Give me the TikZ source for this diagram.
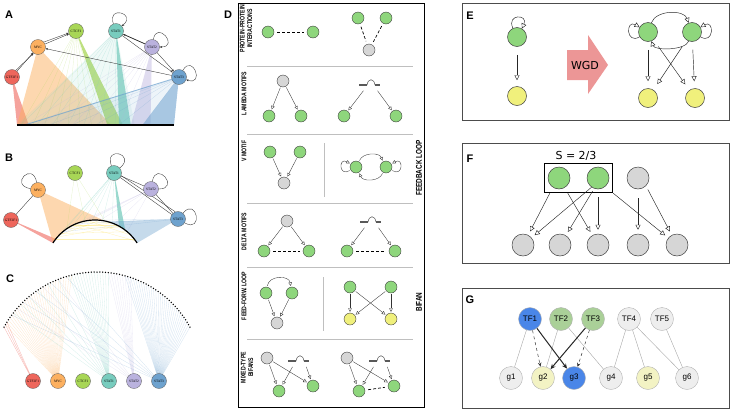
\documentclass[tikz,border=0pt]{standalone}
\usepackage{fontspec}
\setmainfont{Liberation Sans}
\newfontfamily\dejavu{DejaVu Sans}
\newfontfamily\tfserif{Liberation Serif}
\newfontfamily\narrowsans[FakeStretch=0.76]{Liberation Sans}
\usetikzlibrary{arrows.meta,backgrounds,fit}

\definecolor{tfred}{RGB}{238,102,92}
\definecolor{tforange}{RGB}{252,176,96}
\definecolor{tflime}{RGB}{168,214,86}
\definecolor{tfteal}{RGB}{120,204,190}
\definecolor{tfpurple}{RGB}{186,178,222}
\definecolor{tfblue}{RGB}{110,162,206}
\definecolor{motifgreen}{RGB}{142,214,124}
\definecolor{motifyellow}{RGB}{240,240,124}
\definecolor{motifgray}{RGB}{214,214,214}
\definecolor{wgdpink}{RGB}{236,150,150}
\definecolor{gblue}{RGB}{74,134,232}
\definecolor{ggreen}{RGB}{170,208,152}
\definecolor{ggray}{RGB}{238,238,238}
\definecolor{gyellow}{RGB}{243,243,196}
\newcommand{\edgecolor}{gray!40!black}

\tikzset{
  gene/.pic={
    \draw[genebar] (-12,0) -- (-4,0);
    \draw[gray!60!black, line width=.5pt] (-4,0) .. controls (-3,-7) and (3,-7) .. (4,0);
    \draw[genebar] (4,0) -- (9,0);
    \coordinate (-l) at (-7,5);
    \coordinate (-r) at (6,5);
  }
}

\begin{document}
\begin{tikzpicture}[x=1pt, y=-1pt,
    tf/.style={circle, draw=gray!70!black, line width=.3pt, minimum size=15pt, inner sep=0pt, font=\tfserif\fontsize{3.5}{4}\selectfont},
    fan/.style={line width=.3pt, opacity=.3},
    tfedge/.style={\edgecolor, line width=.35pt},
    tfarr/.style={tfedge, -{Stealth[length=2.5pt,width=2pt]}},
    letter/.style={font=\fontsize{11}{13}\selectfont\bfseries},
    motif/.style={circle, draw=gray!50!black, line width=.4pt, minimum size=12pt, inner sep=0pt},
    gn/.style={motif, fill=motifgreen},
    yn/.style={motif, fill=motifyellow},
    kn/.style={motif, fill=motifgray},
    reg/.style={-{Triangle[open,length=3.5pt,width=3.5pt]}, \edgecolor, line width=.35pt, shorten >=1pt, shorten <=1pt},
    ppi/.style={line width=.7pt, dash pattern=on 3pt off 2pt, shorten >=3pt, shorten <=3pt},
    rowlabel/.style={rotate=90, anchor=east, inner sep=.5pt, font=\narrowsans\bfseries\fontsize{6.8}{7.4}\selectfont, align=center},
    sidelabel/.style={rowlabel, anchor=center, font=\narrowsans\bfseries\fontsize{8.4}{9}\selectfont},
    rowsep/.style={gray!50, line width=.5pt},
    genebar/.style={gray!70!black, line width=1.5pt},
    panel/.style={draw=gray!60!black, line width=.8pt},
    big/.style={circle, draw=gray!50!black, line width=.5pt, minimum size=19pt, inner sep=0pt},
    fnode/.style={circle, draw=gray!50!black, line width=.5pt, minimum size=22pt, inner sep=0pt},
    wreg/.style={-{Triangle[open,length=5pt,width=5pt]}, gray!30!black, line width=.45pt},
    gnode/.style={circle, draw=gray!60, line width=.4pt, minimum size=23pt, inner sep=0pt, font=\fontsize{8}{9}\selectfont},
    gline/.style={gray!70, line width=.4pt},
    gdash/.style={gray!40!black, dashed, line width=.5pt, -{Stealth[length=4pt,width=3.5pt]}},
    gthick/.style={gray!30!black, line width=1pt, -{Stealth[length=5pt,width=4.5pt]}}]
  \useasboundingbox (0,0) rectangle (733,410);

  % ---- A ----
  \node[letter] (labA) at (9,15) {A};
  \node[tf, fill=tfred] (aGTF) at (12,77) {GTF2F1};
  \node[tf, fill=tforange] (aMYC) at (38,47) {MYC};
  \node[tf, fill=tflime] (aCTC) at (76,31) {CTCF1};
  \node[tf, fill=tfteal] (aST1) at (116,31) {STAT1};
  \node[tf, fill=tfpurple] (aST2) at (152,47) {STAT2};
  \node[tf, fill=tfblue] (aST3) at (179,77) {STAT3};
  \foreach \i in {0,...,40} \coordinate (ab\i) at ({17+3.925*\i},125);
  \begin{scope}[on background layer]
    % fans
    \fill[tfred, opacity=.6] (aGTF.center) -- (ab0) -- (ab3) -- cycle;
    \fill[tforange, opacity=.5] (aMYC.center) -- (ab0) -- (ab24) -- cycle;
    \foreach \i in {1,4,...,22} \draw[fan, tflime] (aCTC.center) -- (ab\i);
    \fill[tflime, opacity=.75] (aCTC.center) -- (ab23) -- (ab27) -- cycle;
    \fill[tfteal, opacity=.12] (aST1.center) -- (ab0) -- (ab30) -- cycle;
    \foreach \i in {1,5,...,25} \draw[fan, tfteal] (aST1.center) -- (ab\i);
    \fill[tfteal, opacity=.75] (aST1.center) -- (ab26) -- (ab29) -- cycle;
    \foreach \i in {2,6,...,26} \draw[fan, tfpurple] (aST2.center) -- (ab\i);
    \fill[tfpurple, opacity=.45] (aST2.center) -- (ab29) -- (ab34) -- cycle;
    \fill[tfblue, opacity=.12] (aST3.center) -- (ab1) -- (ab32) -- cycle;
    \draw[tfblue, opacity=.7, line width=.9pt] (aST3.center) -- (ab2);
    \foreach \i in {8,14,...,32} \draw[fan, tfblue] (aST3.center) -- (ab\i);
    \fill[tfblue, opacity=.6] (aST3.center) -- (ab32) -- (ab40) -- cycle;
    % tf edges
    \draw[tfarr] (aGTF) -- (aMYC);
    \draw[tfarr] (aGTF.60) -- (aMYC.235);
    \draw[tfarr] (aMYC) -- (aCTC);
    \draw[tfarr] (aMYC.40) -- (aCTC.195);
    \draw[tfarr] (aST3) -- (aMYC);
    \draw[tfarr, line width=.8pt, {Stealth[length=2.5pt,width=2pt]}-] (aST1) -- (aST2);
    \draw[tfarr] (aST2) -- (aST3);
    \draw[tfarr] (aST1) -- (aST3);
  \end{scope}
  \draw[line width=1.6pt] (ab0) -- (ab40);
  % self loops
  \draw[tfarr] (aST1.110) .. controls +(110:20pt) and +(40:20pt) .. (aST1.40);
  \draw[tfarr] (aST2.80) .. controls +(80:20pt) and +(0:20pt) .. (aST2.0);
  \draw[tfarr] (aST3.60) .. controls +(60:20pt) and +(-20:20pt) .. (aST3.-20);

  % ---- B ----
  \node[letter] (labB) at (9,158) {B};
  \node[tf, fill=tfred] (bGTF) at (11,220) {GTF2F1};
  \node[tf, fill=tforange] (bMYC) at (38,190) {MYC};
  \node[tf, fill=tflime] (bCTC) at (75,173) {CTCF1};
  \node[tf, fill=tfteal] (bST1) at (114,173) {STAT1};
  \node[tf, fill=tfpurple] (bST2) at (151,189) {STAT2};
  \node[tf, fill=tfblue] (bST3) at (178,219) {STAT3};
  \foreach \i in {0,...,40} \coordinate (bd\i) at ({95+50*cos(212.7+2.865*\i)},{270+50*sin(212.7+2.865*\i)});
  \begin{scope}[on background layer]
    % fans
    \fill[tfred, opacity=.6] (bGTF.center) -- (bd0) -- (bd2) -- cycle;
    \fill[tforange, opacity=.5] (bMYC.center) \foreach \i in {0,...,24} {-- (bd\i)} -- cycle;
    \foreach \i in {3,7,...,27} \draw[fan, tfteal] (bST1.center) -- (bd\i);
    \fill[tfteal, opacity=.75] (bST1.center) -- (bd30) -- (bd31) -- (bd32) -- (bd33) -- cycle;
    \foreach \i in {4,10,...,34} \draw[fan, tfpurple] (bST2.center) -- (bd\i);
    \foreach \i in {8,16,24} \draw[fan, tflime] (bCTC.center) -- (bd\i);
    \fill[tfblue, opacity=.4] (bST3.center) \foreach \i in {25,...,40} {-- (bd\i)} -- cycle;
    \foreach \i in {6,12,18} \draw[fan, tfblue] (bST3.center) -- (bd\i);
    \foreach \i/\j in {2/38,5/34,8/31,11/29,14/26,4/22,9/27,17/36,3/30,12/39} \draw[fan, yellow!70!orange] (bd\i) -- (bd\j);
    % tf edges
    \draw[tfedge] (bMYC) -- (bGTF);
    \draw[tfedge] (bST1) -- (bST2);
    \draw[tfedge] (bST1) -- (bST3);
    \draw[tfedge] (bST1.-20) -- (bST3.110);
    \draw[tfedge] (bST2) -- (bST3);
  \end{scope}
  \draw[line width=1.2pt] (bd0) \foreach \i in {1,...,40} {-- (bd\i)};
  % self loops
  \draw[tfedge] (bMYC.100) .. controls +(100:22pt) and +(170:22pt) .. (bMYC.170);
  \draw[tfedge] (bST1.110) .. controls +(110:22pt) and +(40:22pt) .. (bST1.40);
  \draw[tfedge] (bST2.80) .. controls +(80:22pt) and +(0:22pt) .. (bST2.0);
  \draw[tfedge] (bST3.50) .. controls +(50:22pt) and +(-30:22pt) .. (bST3.-30);

  % ---- C ----
  \node[letter] (labC) at (10,279) {C};
  \node[tf, fill=tfred] (cGTF) at (33,381) {GTF2F1};
  \node[tf, fill=tforange] (cMYC) at (58,381) {MYC};
  \node[tf, fill=tflime] (cCTC) at (83,381) {CTCF1};
  \node[tf, fill=tfteal] (cST1) at (109,381) {STAT1};
  \node[tf, fill=tfpurple] (cST2) at (134,381) {STAT2};
  \node[tf, fill=tfblue] (cST3) at (159,381) {STAT3};
  \foreach \i in {0,...,80} \coordinate (cd\i) at ({97+106*cos(208.7+1.5325*\i)},{378+106*sin(208.7+1.5325*\i)});
  \begin{scope}[on background layer]
    \foreach \i in {0,1,2} \draw[fan, tfred, opacity=.5] (cGTF.center) -- (cd\i);
    \foreach \i in {1,...,31} \draw[fan, tforange] (cMYC.center) -- (cd\i);
    \foreach \i in {31,...,44} \draw[fan, tfteal] (cST1.center) -- (cd\i);
    \foreach \i in {6,10,...,30} \draw[fan, tfteal] (cST1.center) -- (cd\i);
    \foreach \i in {44,...,52} \draw[fan, tfpurple] (cST2.center) -- (cd\i);
    \foreach \i in {8,14,20,26} \draw[fan, tfpurple] (cST2.center) -- (cd\i);
    \foreach \i in {50,...,80} \draw[fan, tfblue] (cST3.center) -- (cd\i);
    \foreach \i in {5,11,17,23,29} \draw[fan, tfblue] (cST3.center) -- (cd\i);
  \end{scope}
  \foreach \i in {0,...,80} \fill (cd\i) circle (.75pt);

  % ---- D ----
  \draw[line width=.9pt] (238,3) rectangle (424,407);
  \node[letter] (labD) at (228,15) {D};
  \foreach \y in {66,134,203,267,339} \draw[rowsep] (247,\y) -- (413,\y);
  \draw[rowsep] (324,143) -- (324,197);
  \draw[rowsep] (323,277) -- (323,331);
  % row labels
  \node[rowlabel] (lPPI) at (246,4) {PROTEIN-PROTEIN\\INTERACTIONS};
  \node[rowlabel] (lLam) at (244,71) {LAMBDA MOTIFS};
  \node[rowlabel] (lV) at (244,140) {V MOTIF};
  \node[rowlabel] (lDel) at (244,212) {DELTA MOTIFS};
  \node[rowlabel] (lFF) at (244,271) {FEED-FORW. LOOP};
  \node[rowlabel] (lMix) at (247,351) {MIXED-TYPE\\BIFANS};
  \node[sidelabel] (lFB) at (419,168) {FEEDBACK LOOP};
  \node[sidelabel] (lBif) at (419,302) {BIFAN};
  % protein-protein
  \node[gn] (d1a) at (268,32) {};
  \node[gn] (d1b) at (313,32) {};
  \draw[ppi] (d1a) -- (d1b);
  \node[gn] (d1c) at (358,18) {};
  \node[gn] (d1d) at (386,18) {};
  \node[kn] (d1e) at (369,50) {};
  \draw[ppi] (d1c) -- (d1e);
  \draw[ppi] (d1d) -- (d1e);
  % lambda
  \node[kn] (d2a) at (283,81) {};
  \node[gn] (d2b) at (269,116) {};
  \node[gn] (d2c) at (301,116) {};
  \draw[reg] (d2a) -- (d2b);
  \draw[reg] (d2a) -- (d2c);
  \pic (g2) at (371,85) {gene};
  \node[gn] (d2d) at (344,116) {};
  \node[gn] (d2e) at (396,116) {};
  \draw[reg] (g2-l) -- (d2d);
  \draw[reg] (g2-r) -- (d2e);
  % v motif and feedback loop
  \node[gn] (d3a) at (270,152) {};
  \node[gn] (d3b) at (300,152) {};
  \node[kn] (d3c) at (284,183) {};
  \draw[reg] (d3a) -- (d3c);
  \draw[reg] (d3b) -- (d3c);
  \node[gn] (d3d) at (356,167) {};
  \node[gn] (d3e) at (386,167) {};
  \draw[reg] (d3d.60) .. controls +(70:10pt) and +(110:10pt) .. (d3e.120);
  \draw[reg] (d3e.240) .. controls +(250:10pt) and +(290:10pt) .. (d3d.300);
  \draw[reg] (d3d.210) .. controls +(210:14pt) and +(150:14pt) .. (d3d.150);
  \draw[reg] (d3e.-30) .. controls +(-30:14pt) and +(30:14pt) .. (d3e.30);
  % delta
  \node[kn] (d4a) at (287,221) {};
  \node[gn] (d4b) at (264,251) {};
  \node[gn] (d4c) at (309,251) {};
  \draw[reg] (d4a) -- (d4b);
  \draw[reg] (d4a) -- (d4c);
  \draw[ppi] (d4b) -- (d4c);
  \pic (g4) at (372,222) {gene};
  \node[gn] (d4d) at (347,251) {};
  \node[gn] (d4e) at (395,251) {};
  \draw[reg] (g4-l) -- (d4d);
  \draw[reg] (g4-r) -- (d4e);
  \draw[ppi] (d4d) -- (d4e);
  % feed-forward and bifan
  \node[gn] (d5a) at (266,293) {};
  \node[gn] (d5b) at (292,293) {};
  \node[kn] (d5c) at (277,323) {};
  \draw[reg] (d5a.80) .. controls +(80:12pt) and +(100:12pt) .. (d5b.100);
  \draw[reg] (d5a) -- (d5c);
  \draw[reg] (d5b) -- (d5c);
  \node[gn] (d5d) at (350,287) {};
  \node[gn] (d5e) at (391,287) {};
  \node[yn] (d5f) at (350,319) {};
  \node[yn] (d5g) at (391,319) {};
  \draw[reg] (d5d) -- (d5f);
  \draw[reg] (d5d) -- (d5g);
  \draw[reg] (d5e) -- (d5f);
  \draw[reg] (d5e) -- (d5g);
  % mixed bifans
  \node[kn] (d6a) at (267,358) {};
  \pic (g6a) at (300,361) {gene};
  \node[gn] (d6b) at (279,391) {};
  \node[gn] (d6c) at (313,386) {};
  \draw[reg] (d6a) -- (d6b);
  \draw[reg] (d6a) -- (d6c);
  \draw[reg] (g6a-l) -- (d6b);
  \draw[reg] (g6a-r) -- (d6c);
  \node[kn] (d6d) at (347,358) {};
  \pic (g6b) at (381,361) {gene};
  \node[gn] (d6e) at (359,391) {};
  \node[gn] (d6f) at (394,386) {};
  \draw[reg] (d6d) -- (d6e);
  \draw[reg] (d6d) -- (d6f);
  \draw[reg] (g6b-l) -- (d6e);
  \draw[reg] (g6b-r) -- (d6f);
  \draw[ppi] (d6e) -- (d6f);

  % ---- E ----
  \draw[panel] (462,3) rectangle (729,120);
  \node[letter] (labE) at (470,16) {E};
  \node[big, fill=motifgreen] (e1) at (517,37) {};
  \node[big, fill=motifyellow] (e1y) at (517,96) {};
  \draw[wreg, shorten <=8pt, shorten >=6pt] (e1) -- (e1y);
  \draw[wreg] (e1.115) .. controls +(115:16pt) and +(65:16pt) .. (e1.60);
  \fill[wgdpink] (567,50) -- (588,50) -- (588,35) -- (608,65) -- (588,94) -- (588,80) -- (567,80) -- cycle;
  \node[font=\dejavu\fontsize{11}{13}\selectfont] (wgd) at (585,65) {WGD};
  \node[big, fill=motifgreen] (e2) at (648,32) {};
  \node[big, fill=motifgreen] (e3) at (692,32) {};
  \node[big, fill=motifyellow] (e2y) at (648,98) {};
  \node[big, fill=motifyellow] (e3y) at (695,98) {};
  \draw[wreg] (e2.70) .. controls +(70:14pt) and +(110:14pt) .. (e3.110);
  \draw[wreg] (e3.250) .. controls +(250:10pt) and +(290:10pt) .. (e2.290);
  \draw[wreg] (e2.210) .. controls +(210:16pt) and +(150:16pt) .. (e2.150);
  \draw[wreg] (e3.-30) .. controls +(-30:16pt) and +(30:16pt) .. (e3.30);
  \foreach \s/\t in {e2/e2y, e2/e3y, e3/e2y, e3/e3y}
    \draw[wreg, shorten <=8pt, shorten >=7pt] (\s) -- (\t);

  % ---- F ----
  \draw[panel] (462,143) rectangle (729,263);
  \node[letter] (labF) at (470,159) {F};
  \node[font=\dejavu\fontsize{11}{13}\selectfont] (score) at (576,156) {S = 2/3};
  \node[fnode, fill=motifgreen] (f1) at (559,178) {};
  \node[fnode, fill=motifgreen] (f2) at (598,178) {};
  \node[fnode, fill=motifgray] (f3) at (638,178) {};
  \node[draw, line width=.9pt, fit=(f1)(f2), inner sep=3.5pt] (fbox) {};
  \foreach \x [count=\k] in {523,560,598,638,677}
    \node[fnode, fill=motifgray] (fb\k) at (\x,245) {};
  \begin{scope}[wreg, shorten >=4pt]
    \draw ([xshift=6pt]fbox.south west) -- (fb1);
    \draw ([xshift=24pt]fbox.south west) -- (fb3);
    \draw (f2.235) -- (fb1);
    \draw[shorten <=3pt] (f2.250) -- (fb2);
    \draw[shorten <=8pt] (f2.south) -- (fb3);
    \draw (fbox.south east) -- (fb5);
    \draw[shorten <=9pt] (f3.south) -- (fb4);
    \draw[shorten <=4pt] (f3.south east) -- (fb5);
  \end{scope}

  % ---- G ----
  \draw[panel] (462,288) rectangle (729,408);
  \node[letter] (labG) at (470,300) {G};
  \node[gnode, fill=gblue] (gTF1) at (530,319) {TF1};
  \node[gnode, fill=ggreen] (gTF2) at (561,319) {TF2};
  \node[gnode, fill=ggreen] (gTF3) at (593,319) {TF3};
  \node[gnode, fill=ggray] (gTF4) at (629,319) {TF4};
  \node[gnode, fill=ggray] (gTF5) at (662,319) {TF5};
  \node[gnode, fill=ggray] (g1) at (511,378) {g1};
  \node[gnode, fill=gyellow] (g2) at (543,378) {g2};
  \node[gnode, fill=gblue] (g3) at (574,378) {g3};
  \node[gnode, fill=ggray] (g4) at (611,378) {g4};
  \node[gnode, fill=gyellow] (g5) at (648,378) {g5};
  \node[gnode, fill=ggray] (g6) at (687,378) {g6};
  \foreach \s/\t in {gTF1/g1, gTF2/g2, gTF2/g4, gTF4/g4, gTF4/g5, gTF4/g6, gTF5/g6}
    \draw[gline] (\s) -- (\t);
  \draw[gdash] (gTF1) -- (g2);
  \draw[gdash] (gTF3) -- (g3);
  \draw[gthick] (gTF1) -- (g3);
  \draw[gthick] (gTF3) -- (g2);
\end{tikzpicture}
\end{document}
